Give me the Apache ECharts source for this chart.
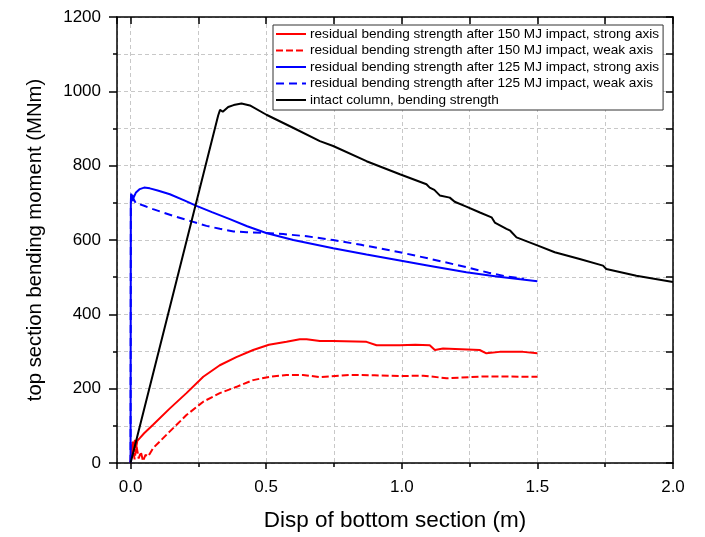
<!DOCTYPE html>
<html>
<head>
<meta charset="utf-8">
<script src="https://cdn.jsdelivr.net/npm/echarts@6/dist/echarts.min.js"></script>
<style>html,body{margin:0;padding:0;background:#fff;}#c{width:705px;height:537px;}</style>
</head>
<body>
<div id="c"></div>
<script>
const seriesNames = [
  "residual bending strength after 150 MJ impact, strong axis",
  "residual bending strength after 150 MJ impact, weak axis",
  "residual bending strength after 125 MJ impact, strong axis",
  "residual bending strength after 125 MJ impact, weak axis",
  "intact column, bending strength"
];
const xTickLabels = ["0.0", "0.5", "1.0", "1.5", "2.0"];
const yTickLabels = ["0", "200", "400", "600", "800", "1000", "1200"];

const red150Strong = [[0,0],[0.003,50],[0.006,25],[0.009,58],[0.012,30],[0.016,62],[0.02,40],[0.025,60],[0.034,67],[0.05,80],[0.083,103],[0.145,147],[0.206,188],[0.268,232],[0.329,263],[0.39,285],[0.452,304],[0.51,318],[0.575,326],[0.624,333],[0.649,333],[0.698,328],[0.747,328],[0.87,326],[0.907,317],[0.993,317],[1.05,318],[1.103,317],[1.122,304],[1.152,308],[1.287,304],[1.312,295],[1.361,299],[1.447,299],[1.5,295]];
const red150Weak = [[0,0],[0.008,40],[0.015,10],[0.022,45],[0.03,12],[0.038,30],[0.046,5],[0.055,22],[0.065,18],[0.083,40],[0.145,85],[0.206,129],[0.268,165],[0.329,188],[0.391,205],[0.452,223],[0.513,232],[0.575,237],[0.636,237],[0.698,231],[0.808,237],[0.9,236],[0.993,234],[1.079,235],[1.165,228],[1.3,233],[1.5,232]];
const blue125Strong = [[0,0],[0.001,700],[0.002,725],[0.004,705],[0.006,722],[0.01,712],[0.02,728],[0.034,737],[0.05,741],[0.071,739],[0.1,733],[0.145,723],[0.2,706],[0.243,692],[0.3,675],[0.366,656],[0.43,637],[0.5,619],[0.6,600],[0.747,578],[0.87,561],[0.993,545],[1.1,531],[1.238,513],[1.35,502],[1.5,489]];
const blue125Weak = [[0,0],[0.001,690],[0.002,715],[0.005,700],[0.01,712],[0.02,698],[0.034,696],[0.05,692],[0.083,683],[0.12,674],[0.157,665],[0.225,650],[0.28,638],[0.329,630],[0.38,623],[0.428,621],[0.5,619],[0.563,616],[0.65,610],[0.747,600],[0.85,587],[0.993,567],[1.1,550],[1.238,527],[1.32,512],[1.386,502],[1.45,496]];
const intactColumn = [[0,0],[0.323,935],[0.33,950],[0.34,945],[0.36,958],[0.38,963],[0.409,967],[0.44,962],[0.501,937],[0.599,902],[0.698,866],[0.747,853],[0.87,812],[0.993,777],[1.091,750],[1.103,741],[1.12,735],[1.14,720],[1.177,714],[1.195,703],[1.238,690],[1.288,674],[1.331,661],[1.343,647],[1.386,630],[1.4,625],[1.423,607],[1.502,585],[1.564,567],[1.656,549],[1.742,531],[1.754,522],[1.865,504],[2.0,487]];

const FONT = "Liberation Sans, Arial, sans-serif";
const gridLine = {show:true, lineStyle:{color:'#c8c8c8', type:[4,3], width:1}};
const chart = echarts.init(document.getElementById('c'), null, {renderer:'canvas'});

function mk(name, data, color, dash) {
  return {
    name: name, type: 'line', data: data, showSymbol: false, symbol: 'none',
    lineStyle: {color: color, width: 2, type: dash || 'solid'},
    itemStyle: {color: color}, animation: false
  };
}

chart.setOption({
  animation: false,
  backgroundColor: '#fff',
  grid: {left: 117, top: 17, right: 32, bottom: 72, containLabel: false},
  legend: {
    orient: 'vertical', left: 273, top: 25,
    data: seriesNames,
    itemWidth: 30, itemHeight: 12, itemGap: 2.5,
    padding: [2, 4, 3, 2],
    borderColor: '#333', borderWidth: 1, backgroundColor: '#fff',
    itemStyle: {opacity: 0},
    textStyle: {fontFamily: FONT, fontSize: 13.6, lineHeight: 14, color: '#000', padding: [0, 0, 0, -1]}
  },
  xAxis: [{
    type: 'value', min: -0.05, max: 2.0, minInterval: 0.5, maxInterval: 0.5,
    position: 'bottom',
    name: 'Disp of bottom section (m)', nameLocation: 'middle', nameGap: 46,
    nameTextStyle: {fontFamily: FONT, fontSize: 22.5, color: '#000'},
    axisLine: {show: true, onZero: false, lineStyle: {color: '#000', width: 1.5}},
    axisTick: {show: true, inside: false, length: 6, lineStyle: {color: '#000', width: 1.5}},
    minorTick: {show: true, splitNumber: 2, length: 4, lineStyle: {color: '#000', width: 1.5}},
    splitLine: gridLine, minorSplitLine: gridLine,
    axisLabel: {fontFamily: FONT, fontSize: 17, color: '#000', margin: 16,
      formatter: function (v) { const k = Math.round(v * 2); return Math.abs(v * 2 - k) < 1e-6 && k >= 0 ? xTickLabels[k] : ''; }}
  }, {
    type: 'value', min: -0.05, max: 2.0, minInterval: 0.25, maxInterval: 0.25,
    position: 'top',
    axisLine: {show: true, onZero: false, lineStyle: {color: '#000', width: 1.5}},
    axisTick: {show: true, inside: true, length: 7, lineStyle: {color: '#000', width: 1.5}},
    axisLabel: {show: false}, splitLine: {show: false}
  }],
  yAxis: [{
    type: 'value', min: 0, max: 1200, interval: 200, position: 'left',
    name: 'top section bending moment (MNm)', nameLocation: 'middle', nameGap: 72,
    nameTextStyle: {fontFamily: FONT, fontSize: 20.3, color: '#000'},
    axisLine: {show: true, onZero: false, lineStyle: {color: '#000', width: 1.5}},
    axisTick: {show: true, inside: false, length: 8, lineStyle: {color: '#000', width: 1.5}},
    minorTick: {show: true, splitNumber: 2, length: 4, lineStyle: {color: '#000', width: 1.5}},
    splitLine: gridLine, minorSplitLine: gridLine,
    axisLabel: {fontFamily: FONT, fontSize: 17, color: '#000', margin: 16,
      formatter: function (v) { const k = Math.round(v / 200); return yTickLabels[k]; }}
  }, {
    type: 'value', min: 0, max: 1200, interval: 100, position: 'right',
    axisLine: {show: true, onZero: false, lineStyle: {color: '#000', width: 1.5}},
    axisTick: {show: true, inside: true, length: 7, lineStyle: {color: '#000', width: 1.5}},
    axisLabel: {show: false}, splitLine: {show: false}
  }],
  series: [
    mk(seriesNames[0], red150Strong, '#ff0000'),
    mk(seriesNames[1], red150Weak, '#ff0000', [7, 3]),
    mk(seriesNames[2], blue125Strong, '#0000ff'),
    mk(seriesNames[3], blue125Weak, '#0000ff', [8, 5]),
    mk(seriesNames[4], intactColumn, '#000000')
  ]
});
</script>
</body>
</html>
